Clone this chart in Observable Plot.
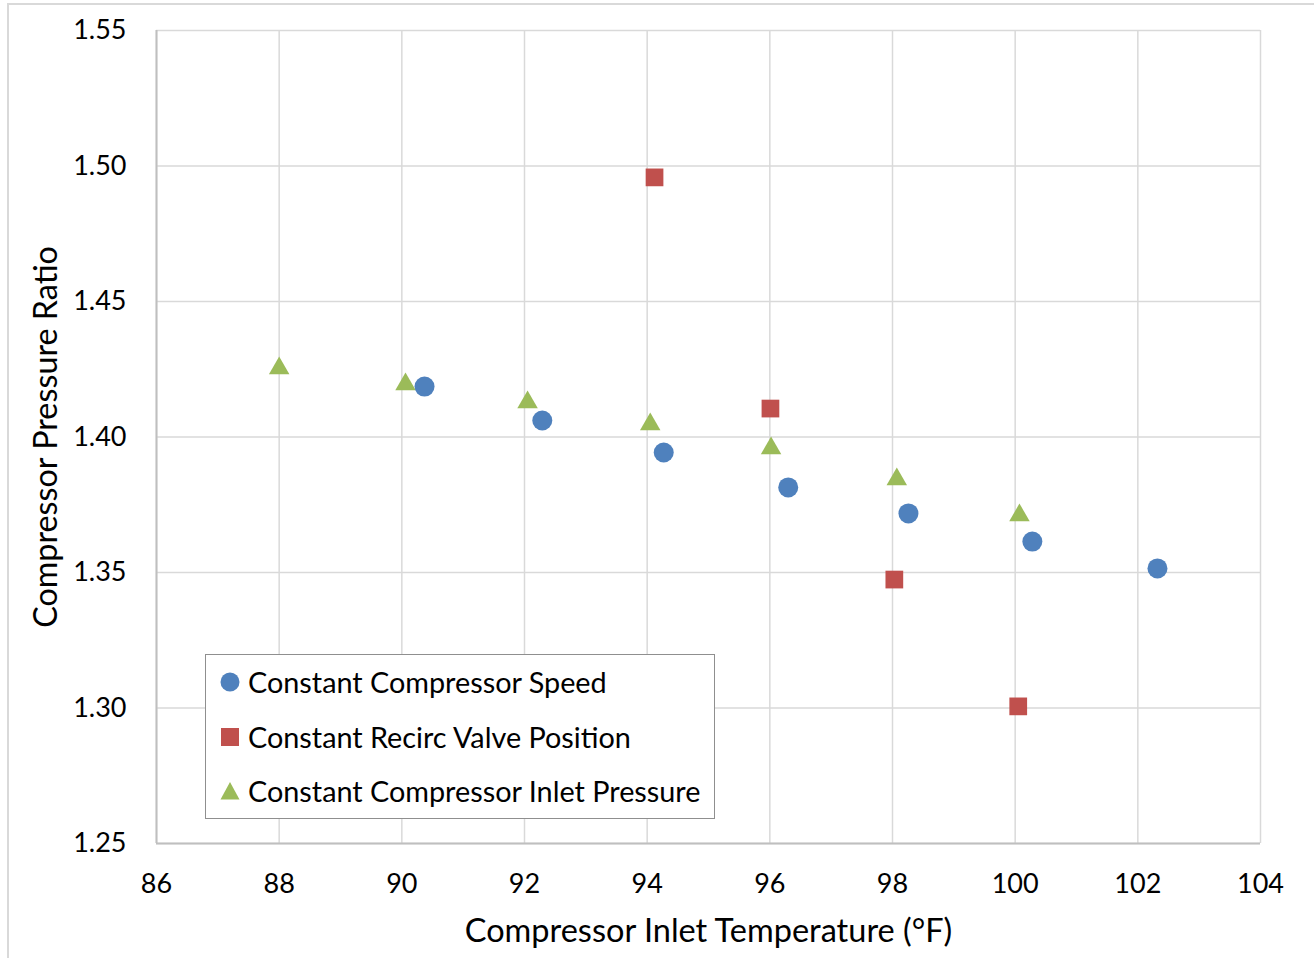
<!DOCTYPE html>
<html>
<head>
<meta charset="utf-8">
<script src="https://cdn.jsdelivr.net/npm/d3@7"></script>
<script src="https://cdn.jsdelivr.net/npm/@observablehq/plot@0.6"></script>
<style>
  html, body { margin: 0; padding: 0; background: #fff; overflow: hidden; }
  #wrap { position: relative; width: 1314px; height: 958px; overflow: hidden; font-family: Lato, "Open Sans", sans-serif; }
  #frame { position: absolute; left: 7px; top: 3px; width: 1330px; height: 980px; border-left: 2px solid #d9d9d9; border-top: 2px solid #d9d9d9; box-sizing: border-box; pointer-events: none; }
  #chart { position: absolute; left: 0; top: 0; }
  #legend { position: absolute; left: 205px; top: 654px; width: 510px; height: 165px; box-sizing: border-box; border: 1.5px solid #8f8f8f; background: #fff; }
  .item { position: absolute; left: 14px; height: 30px; display: flex; align-items: center; font-size: 28.8px; color: #000; white-space: nowrap; }
  .item svg { margin-right: 8px; }
</style>
</head>
<body>
<div id="wrap">
  <div id="chart"></div>
  <div id="frame"></div>
  <div id="legend"></div>
</div>
<script>
// ---- data ----
const seriesNames = ["Constant Compressor Speed", "Constant Recirc Valve Position", "Constant Compressor Inlet Pressure"];
const seriesColors = ["#4f81bd", "#c0504d", "#9bbb59"];

const speedX = [90.37, 92.29, 94.27, 96.30, 98.26, 100.28, 102.32];
const speedY = [1.4186, 1.4061, 1.3943, 1.3814, 1.3718, 1.3614, 1.3515];

const valveX = [94.12, 96.01, 98.03, 100.05];
const valveY = [1.4958, 1.4105, 1.3474, 1.3006];

const inletX = [88.00, 90.06, 92.05, 94.05, 96.02, 98.07, 100.07];
const inletY = [1.4253, 1.4194, 1.4128, 1.4047, 1.3958, 1.3844, 1.3711];

const xTicks = [86, 88, 90, 92, 94, 96, 98, 100, 102, 104];
const yTicks = [1.25, 1.30, 1.35, 1.40, 1.45, 1.50, 1.55];

const xTitle = "Compressor Inlet Temperature (°F)";
const yTitle = "Compressor Pressure Ratio";

const toRows = (xs, ys) => xs.map((x, i) => ({x, y: ys[i]}));
const speed = toRows(speedX, speedY);
const valve = toRows(valveX, valveY);
const inlet = toRows(inletX, inletY);

const chart = Plot.plot({
  width: 1314,
  height: 958,
  marginLeft: 156,
  marginRight: 54,
  marginTop: 30,
  marginBottom: 115,
  style: { fontFamily: "Lato, 'Open Sans', sans-serif", fontSize: "27px", color: "#000", background: "transparent" },
  x: { domain: [86, 104], ticks: xTicks, tickSize: 0, tickPadding: 30, tickFormat: d3.format("d"), label: null },
  y: { domain: [1.25, 1.55], ticks: yTicks, tickSize: 0, tickPadding: 30, tickFormat: d3.format(".2f"), label: null },
  marks: [
    Plot.gridX(xTicks, { stroke: "#d9d9d9", strokeOpacity: 1, strokeWidth: 1.5 }),
    Plot.gridY(yTicks, { stroke: "#d9d9d9", strokeOpacity: 1, strokeWidth: 1.5 }),
    Plot.ruleX([86], { stroke: "#bfbfbf", strokeWidth: 2 }),
    Plot.ruleY([1.25], { stroke: "#bfbfbf", strokeWidth: 2 }),
    Plot.dot(inlet, { x: "x", y: "y", symbol: "triangle", r: 7.6, fill: seriesColors[2], stroke: "none" }),
    Plot.dot(valve, { x: "x", y: "y", symbol: "square", r: 10, fill: seriesColors[1], stroke: "none" }),
    Plot.dot(speed, { x: "x", y: "y", symbol: "circle", r: 10, fill: seriesColors[0], stroke: "none" }),
    Plot.text([xTitle], { frameAnchor: "bottom", dy: 98, fontSize: 32.5, fill: "#000", textAnchor: "middle" }),
    Plot.text([yTitle], { frameAnchor: "left", dx: -110, rotate: -90, fontSize: 32.3, fill: "#000", textAnchor: "middle" })
  ]
});
document.getElementById("chart").appendChild(chart);

// ---- legend ----
const legend = document.getElementById("legend");
const glyphs = [
  `<svg width="20" height="20"><circle cx="10" cy="10" r="9.5" fill="${seriesColors[0]}"/></svg>`,
  `<svg width="20" height="20"><rect x="1" y="1" width="18" height="18" fill="${seriesColors[1]}"/></svg>`,
  `<svg width="20" height="20"><path d="M10,1 L19.5,18.5 L0.5,18.5 Z" fill="${seriesColors[2]}"/></svg>`
];
const tops = [12, 67, 121];
seriesNames.forEach((name, i) => {
  const div = document.createElement("div");
  div.className = "item";
  div.style.top = tops[i] + "px";
  div.innerHTML = glyphs[i] + `<span>${name}</span>`;
  legend.appendChild(div);
});
</script>
</body>
</html>
